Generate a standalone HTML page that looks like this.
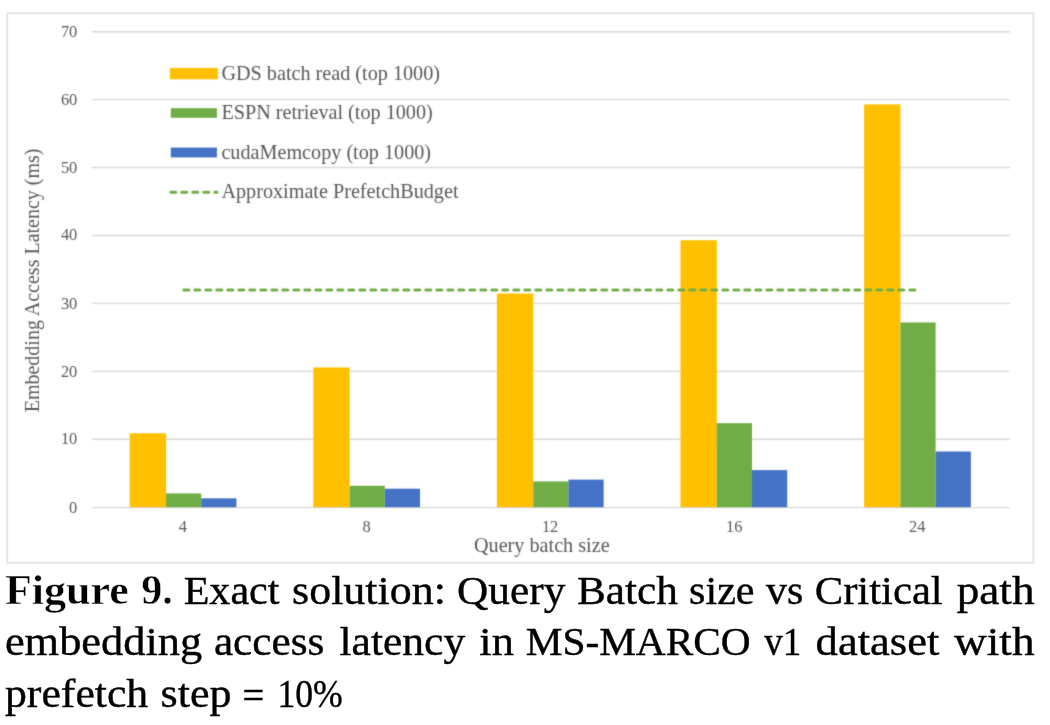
<!DOCTYPE html>
<html lang="en">
<head>
<meta charset="utf-8">
<title>Figure 9</title>
<style>
html,body{margin:0;padding:0;background:#fff;}
body{width:1050px;height:725px;overflow:hidden;position:relative;font-family:"Liberation Serif",serif;}
svg{position:absolute;left:0;top:0;display:block;}
text{font-family:"Liberation Serif",serif;}
.t{fill:#595959;}
.cap{fill:#000;font-size:41.0px;stroke:#000;stroke-width:0.4px;}
.b{font-weight:bold;font-size:41.5px;stroke:#fff;stroke-width:0.5px;}
</style>
</head>
<body>
<svg width="1050" height="725" viewBox="0 0 1050 725">
<defs>
<filter id="soft" x="0" y="0" width="1050" height="568" filterUnits="userSpaceOnUse" color-interpolation-filters="sRGB">
<feConvolveMatrix order="3" kernelMatrix="0.0225 0.1050 0.0225 0.1050 0.4900 0.1050 0.0225 0.1050 0.0225" divisor="1" edgeMode="duplicate" preserveAlpha="true"/>
</filter>
</defs>
<rect x="0" y="0" width="1050" height="725" fill="#fff"/>
<g filter="url(#soft)">
<rect x="0" y="0" width="1050" height="568" fill="#fff"/>
<rect x="7.2" y="13.2" width="1026.2" height="549.6" rx="0.8" fill="none" stroke="#d9d9d9" stroke-width="1.4"/>
<g stroke="#d9d9d9" stroke-width="1.4">
<line x1="92.0" y1="507.60" x2="1010.0" y2="507.60"/>
<line x1="92.0" y1="439.27" x2="1010.0" y2="439.27"/>
<line x1="92.0" y1="371.34" x2="1010.0" y2="371.34"/>
<line x1="92.0" y1="303.41" x2="1010.0" y2="303.41"/>
<line x1="92.0" y1="235.48" x2="1010.0" y2="235.48"/>
<line x1="92.0" y1="167.55" x2="1010.0" y2="167.55"/>
<line x1="92.0" y1="99.62" x2="1010.0" y2="99.62"/>
<line x1="92.0" y1="31.69" x2="1010.0" y2="31.69"/>
</g>
<rect x="129.70" y="433.29" width="36.35" height="73.91" fill="#ffc000"/>
<rect x="166.05" y="493.41" width="35.15" height="13.79" fill="#70ad47"/>
<rect x="201.20" y="498.30" width="35.25" height="8.90" fill="#4472c4"/>
<rect x="313.30" y="367.47" width="36.35" height="139.73" fill="#ffc000"/>
<rect x="349.65" y="485.80" width="35.15" height="21.40" fill="#70ad47"/>
<rect x="384.80" y="488.72" width="35.25" height="18.48" fill="#4472c4"/>
<rect x="496.90" y="293.49" width="36.35" height="213.71" fill="#ffc000"/>
<rect x="533.25" y="481.39" width="35.15" height="25.81" fill="#70ad47"/>
<rect x="568.40" y="479.62" width="35.25" height="27.58" fill="#4472c4"/>
<rect x="680.50" y="240.24" width="36.35" height="266.96" fill="#ffc000"/>
<rect x="716.85" y="423.17" width="35.15" height="84.03" fill="#70ad47"/>
<rect x="752.00" y="470.11" width="35.25" height="37.09" fill="#4472c4"/>
<rect x="864.10" y="104.38" width="36.35" height="402.82" fill="#ffc000"/>
<rect x="900.45" y="322.43" width="35.15" height="184.77" fill="#70ad47"/>
<rect x="935.60" y="451.50" width="35.25" height="55.70" fill="#4472c4"/>
<line x1="183.80" y1="290.12" x2="918.20" y2="290.12" stroke="#70ad47" stroke-width="3" stroke-linecap="round" stroke-dasharray="5 6"/>
<g class="t" font-size="16.4" text-anchor="end">
<text x="77.3" y="512.70">0</text>
<text x="77.3" y="443.87">10</text>
<text x="77.3" y="376.74">20</text>
<text x="77.3" y="309.11">30</text>
<text x="77.3" y="240.38">40</text>
<text x="77.3" y="173.05">50</text>
<text x="77.3" y="104.52">60</text>
<text x="77.3" y="37.09">70</text>
</g>
<g class="t" font-size="16.4" text-anchor="middle">
<text x="182.90" y="531.7">4</text>
<text x="366.50" y="531.7">8</text>
<text x="550.10" y="531.7">12</text>
<text x="734.30" y="531.7">16</text>
<text x="917.30" y="531.7">24</text>
</g>
<text class="t" font-size="20.2" text-anchor="middle" x="541.8" y="551.5">Query batch size</text>
<text class="t" font-size="20" text-anchor="middle" transform="translate(38.8 280.4) rotate(-90)">Embedding Access Latency (ms)</text>
<rect x="169.9" y="67.9" width="48.0" height="11.4" fill="#ffc000"/>
<text class="t" font-size="20.2" x="221.4" y="79.6">GDS batch read (top 1000)</text>
<rect x="170.8" y="108.2" width="46.1" height="9.6" fill="#70ad47"/>
<text class="t" font-size="20.2" x="221.4" y="119.2">ESPN retrieval (top 1000)</text>
<rect x="170.8" y="147.6" width="46.1" height="9.8" fill="#4472c4"/>
<text class="t" font-size="20.2" x="221.4" y="158.6">cudaMemcopy (top 1000)</text>
<line x1="170.8" y1="192.3" x2="217.1" y2="192.3" stroke="#70ad47" stroke-width="3" stroke-linecap="round" stroke-dasharray="5 6"/>
<text class="t" font-size="20.2" x="221.4" y="197.5">Approximate PrefetchBudget</text>
</g>
<text class="cap" y="603.9"><tspan class="b" x="5.00" textLength="123.84" lengthAdjust="spacingAndGlyphs">Figure</tspan> <tspan class="b" x="141.18" textLength="31.61" lengthAdjust="spacingAndGlyphs">9.</tspan> <tspan x="183.67" textLength="95.80" lengthAdjust="spacingAndGlyphs">Exact</tspan> <tspan x="292.13" textLength="153.73" lengthAdjust="spacingAndGlyphs">solution:</tspan> <tspan x="457.04" textLength="108.33" lengthAdjust="spacingAndGlyphs">Query</tspan> <tspan x="577.05" textLength="100.78" lengthAdjust="spacingAndGlyphs">Batch</tspan> <tspan x="689.07" textLength="65.46" lengthAdjust="spacingAndGlyphs">size</tspan> <tspan x="766.00" textLength="37.28" lengthAdjust="spacingAndGlyphs">vs</tspan> <tspan x="814.66" textLength="128.05" lengthAdjust="spacingAndGlyphs">Critical</tspan> <tspan x="956.70" textLength="77.85" lengthAdjust="spacingAndGlyphs">path</tspan></text>
<text class="cap" y="655.3"><tspan x="4.92" textLength="197.32" lengthAdjust="spacingAndGlyphs">embedding</tspan> <tspan x="213.95" textLength="110.36" lengthAdjust="spacingAndGlyphs">access</tspan> <tspan x="339.50" textLength="125.67" lengthAdjust="spacingAndGlyphs">latency</tspan> <tspan x="479.30" textLength="34.54" lengthAdjust="spacingAndGlyphs">in</tspan> <tspan x="525.69" textLength="224.93" lengthAdjust="spacingAndGlyphs">MS-MARCO</tspan> <tspan x="764.30" textLength="37.06" lengthAdjust="spacingAndGlyphs">v1</tspan> <tspan x="815.61" textLength="123.73" lengthAdjust="spacingAndGlyphs">dataset</tspan> <tspan x="954.00" textLength="80.55" lengthAdjust="spacingAndGlyphs">with</tspan></text>
<text class="cap" y="707.0"><tspan x="5.00" textLength="143.23" lengthAdjust="spacingAndGlyphs">prefetch</tspan> <tspan x="160.63" textLength="70.99" lengthAdjust="spacingAndGlyphs">step</tspan> <tspan dy="1.8" x="242.52" textLength="21.74" lengthAdjust="spacingAndGlyphs">=</tspan> <tspan dy="-1.8" x="277.39" textLength="65.31" lengthAdjust="spacingAndGlyphs">10%</tspan></text>
</svg>
</body>
</html>
